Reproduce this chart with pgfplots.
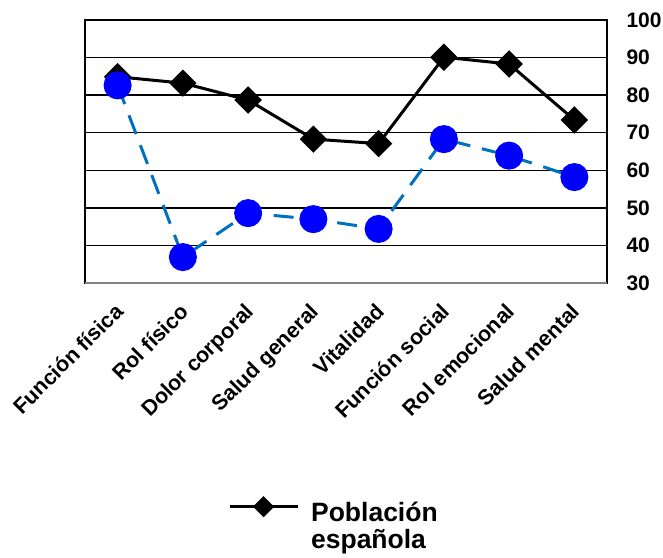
\documentclass[border=0pt]{standalone}
\usepackage{pgfplots}
\pgfplotsset{compat=1.18}
\usepackage{fontspec}
\setmainfont{Liberation Sans}
\definecolor{dashblue}{RGB}{0,112,192}
\definecolor{dotblue}{RGB}{0,0,255}
\begin{document}
\begin{tikzpicture}
\begin{axis}[
  at={(0pt,0pt)}, anchor=south west,
  scale only axis, width=522pt, height=263pt,
  xmin=-0.5, xmax=7.5, ymin=30, ymax=100,
  ytick={30,40,50,60,70,80,90,100},
  xtick={0,1,2,3,4,5,6,7},
  xticklabels={Función física,Rol físico,Dolor corporal,Salud general,Vitalidad,Función social,Rol emocional,Salud mental},
  yticklabel pos=right,
  major tick length=0pt,
  ymajorgrids, grid style={black, line width=1.4pt},
  axis line style={black, line width=1.4pt},
  /pgf/number format/assume math mode=true,
  yticklabel style={font=\fontsize{21}{24}\selectfont\bfseries, xshift=16pt},
  xticklabel style={font=\fontsize{21.5}{24}\selectfont\bfseries, rotate=45, anchor=north east, xshift=-13pt, yshift=-7pt},
  legend style={at={(axis description cs:0.268,-0.81)}, anchor=north west, draw=none, fill=none,
    font=\fontsize{26.5}{30}\selectfont\bfseries, cells={anchor=west}},
  legend image code/.code={\draw[#1, mark=none] (0pt,5pt) -- (68pt,5pt);
     \draw[#1, mark size=6pt, only marks] plot coordinates {(34pt,5pt)};},
]
\addplot[black, line width=3pt, mark=square*, mark size=8.2pt, mark options={rotate=45, solid, fill=black}] coordinates {
(0,84.9) (1,83.2) (2,78.7) (3,68.3) (4,67.1) (5,90.1) (6,88.3) (7,73.4)};
\addlegendentry{\hspace{10pt}\begin{tabular}[t]{@{}l@{}}Población\\[-3pt]española\end{tabular}}
\addplot[dashblue, line width=3pt, dash pattern=on 20pt off 12pt, mark=*, mark size=12.5pt, mark options={solid, fill=dotblue, draw=dotblue}, forget plot] coordinates {
(0,82.6) (1,36.9) (2,48.6) (3,47.0) (4,44.4) (5,68.3) (6,63.9) (7,58.2)};
\draw[gray, line width=3pt] (axis cs:-0.5,30) -- (axis cs:7.5,30);
\end{axis}
\pgfresetboundingbox
\path (-85pt,-274pt) rectangle (578pt,283pt);
\end{tikzpicture}
\end{document}
